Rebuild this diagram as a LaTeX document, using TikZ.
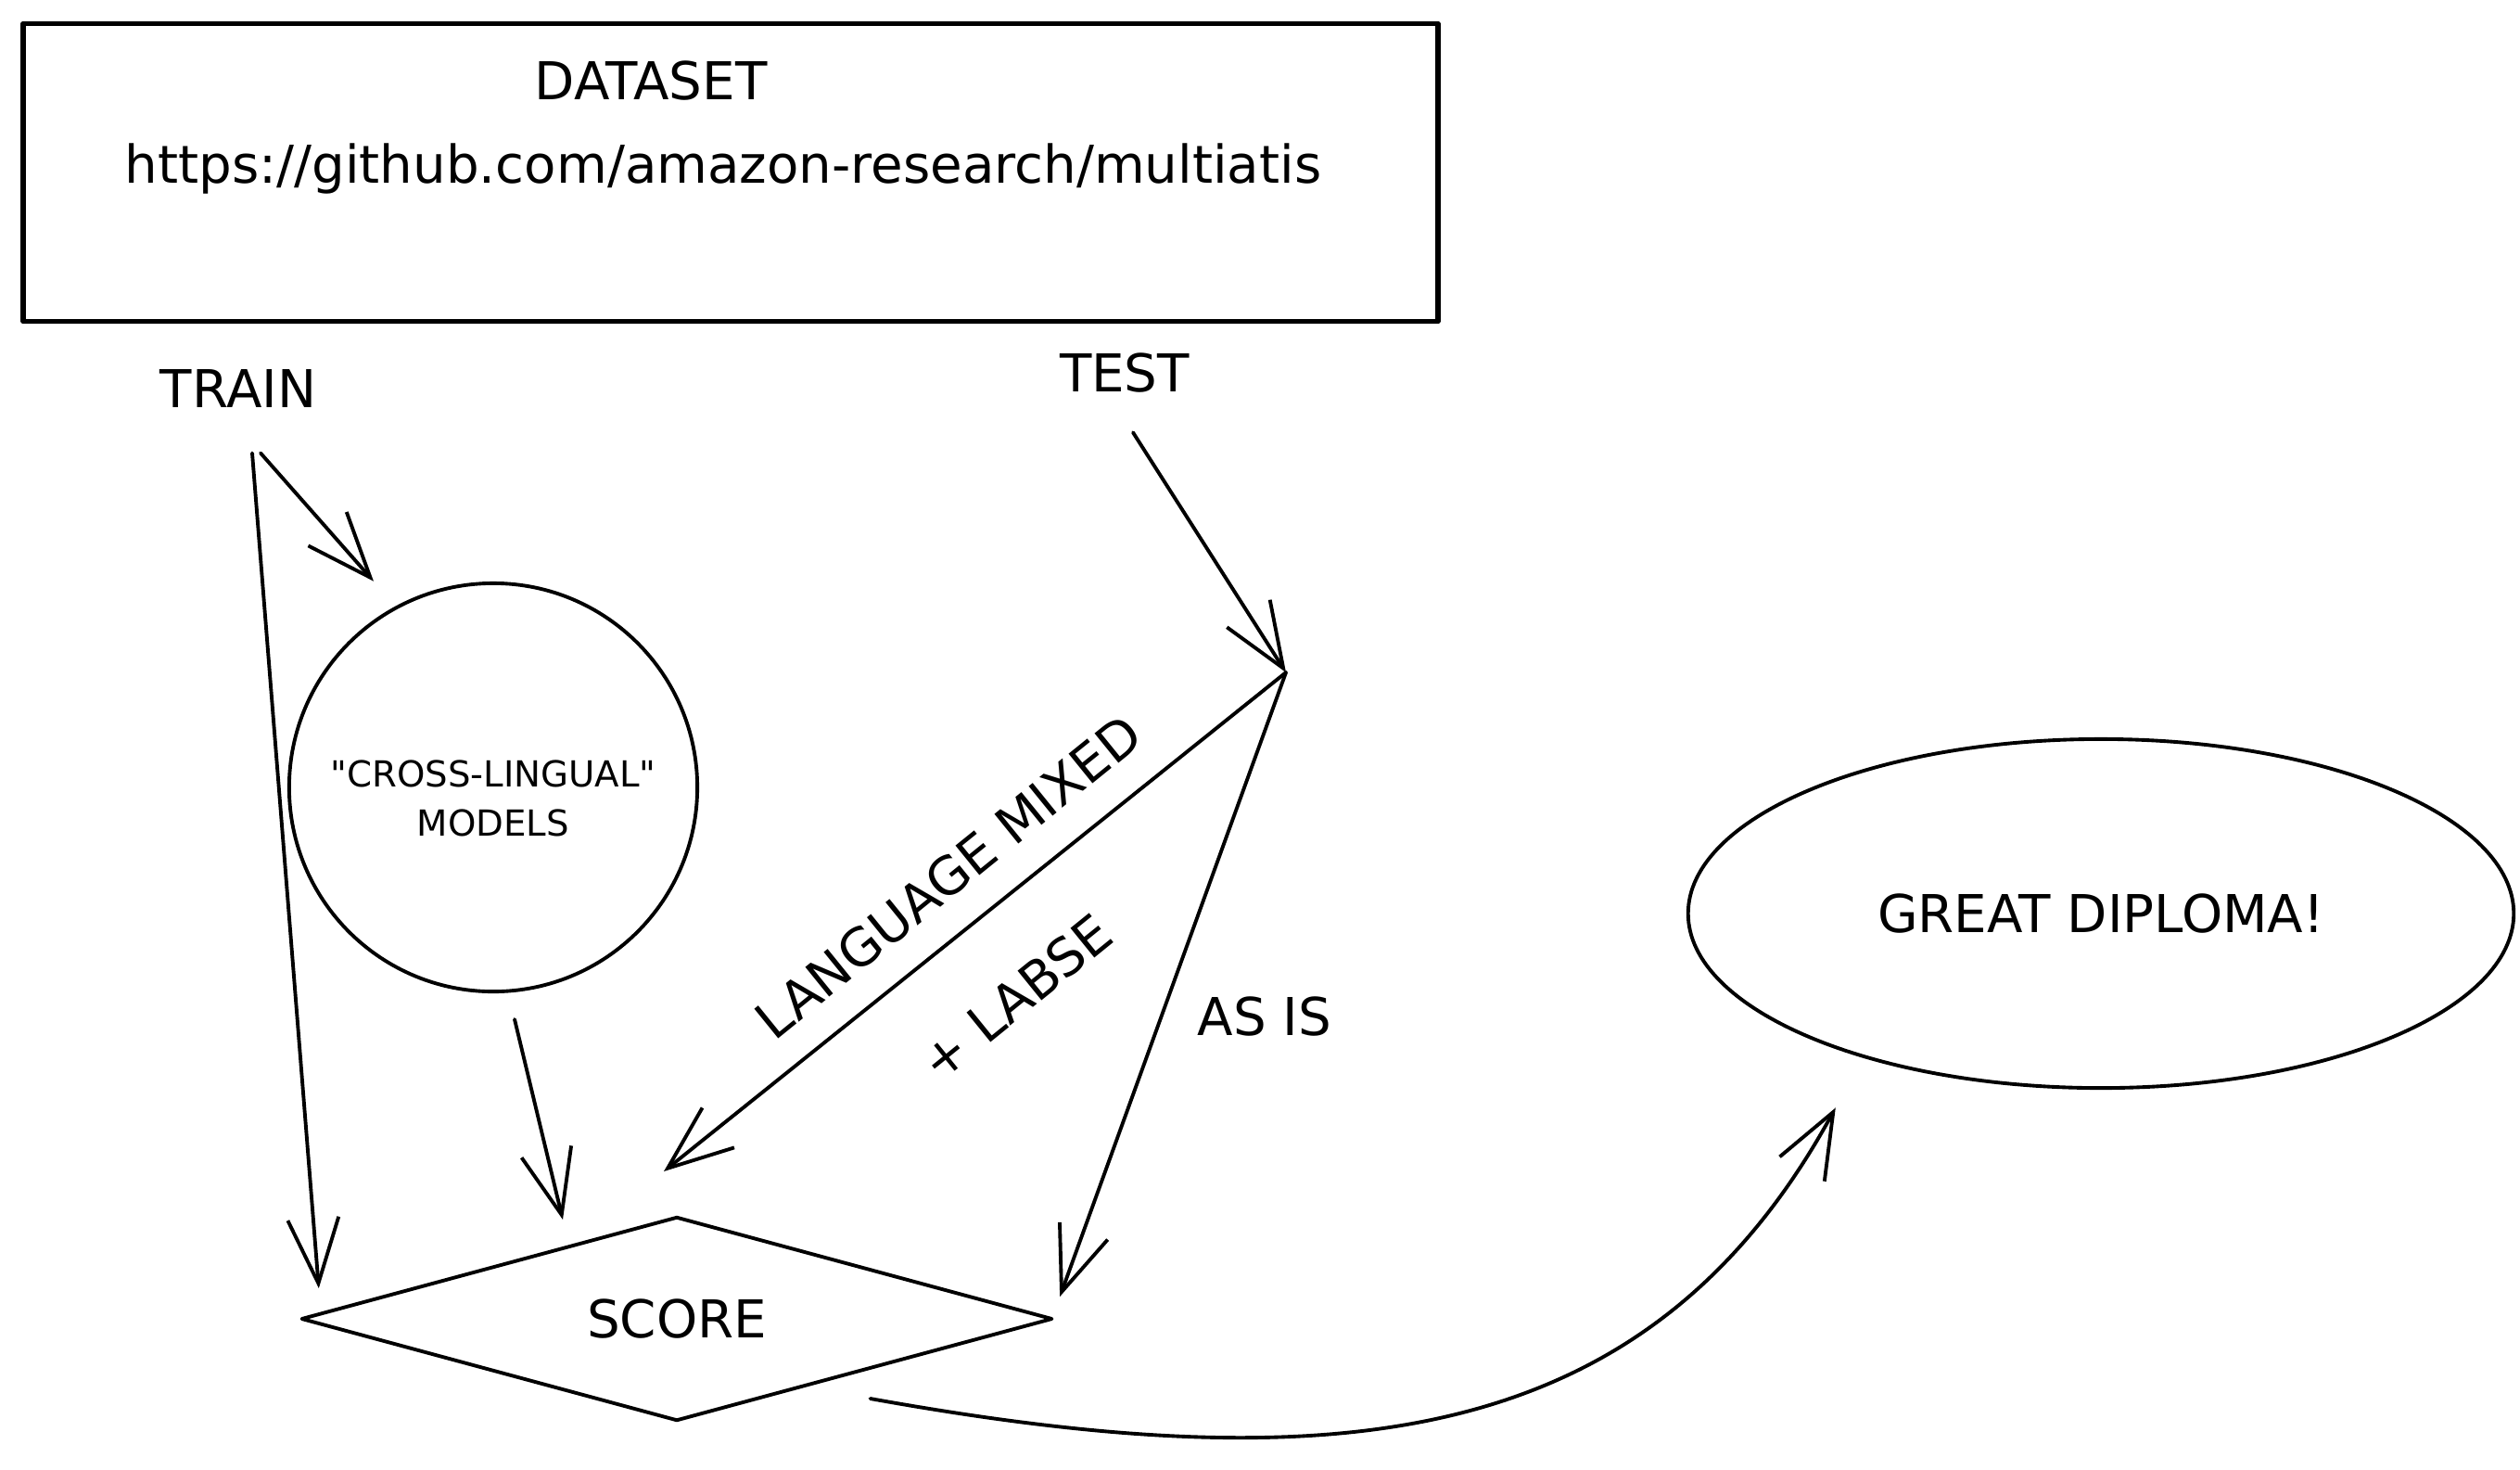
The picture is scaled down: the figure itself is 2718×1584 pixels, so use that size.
\documentclass[tikz,border=0pt]{standalone}
\usepackage{fontspec}
\setmainfont{DejaVu Sans}[Ligatures=TeXOff]
\usetikzlibrary{arrows.meta,shapes.geometric,calc}

\begin{document}
\begin{tikzpicture}[
		  x=0.01cm, y=-0.01cm, line width=1.1pt, line cap=round, line join=round,
		  >={Straight Barb[length=7mm, width=5.5mm, line width=1.1pt]},
		  txt/.style={inner sep=2pt, font=\fontsize{16}{19}\selectfont},
		  small/.style={inner sep=2pt, align=center, font=\fontsize{11}{15}\selectfont},
		  box/.style={draw, line width=1.6pt, minimum width=15.25cm, minimum height=3.21cm},
		  model/.style={draw, circle, minimum size=4.4cm},
		  decision/.style={draw, diamond, aspect=3.7, inner sep=0pt, minimum width=8.1cm, minimum height=2.2cm, txt},
		  goal/.style={draw, ellipse, minimum width=8.9cm, minimum height=3.76cm, txt}
		]
		\useasboundingbox (0,0) rectangle (2718,1584);
		
		% dataset
		\node[box] (dataset) at (788,186) {};
		\node[txt] (ds_title) at (702,87) {DATASET};
		\node[txt] (ds_url) at (780,182) {https://github.com/amazon-research/multiatis};
		
		% splits
		\node[txt] (train) at (257,419) {TRAIN};
		\node[txt] (test) at (1213,402) {TEST};
		\coordinate (junc) at (1387,725);
		
		\node[model] (models) at (532,849) {};
		\node[small] (models_lbl) at (532,861) {"CROSS-LINGUAL"\\MODELS};
		\node[decision] (score) at (730,1422) {SCORE};
		\node[goal] (diploma) at (2266,985) {GREAT DIPLOMA!};
		
		% edge labels
		\node[txt, rotate=39] (lbl_mixed) at (1023,945) {LANGUAGE MIXED};
		\node[txt, rotate=39] (lbl_labse) at (1096,1075) {+ LABSE};
		\node[txt] (lbl_asis) at (1364,1096) {AS IS};
		
		\draw[->] ($(train.south)+(15,40)$) -- ($(score.west)+(21,-33)$);
		\draw[->] ($(train.south)+(24,40)$) -- ($(models.120)+(-18,-30)$);
		\draw[->] ($(models.south)+(23,28)$) -- ($(score.north)+(-123,5)$);
		\draw[->] ($(test.south)+(9,34)$) -- (junc);
		\draw[->] (junc) -- ($(score.north)+(-14,-47)$);
		\draw[->] (junc) -- ($(score.east)+(6,-24)$);
		\draw[->] ($(score.south east)+(5,30)$) .. controls (1450,1600) and (1780,1560) .. ($(diploma.south west)+(30,75)$);
		\end{tikzpicture}
\end{document}
